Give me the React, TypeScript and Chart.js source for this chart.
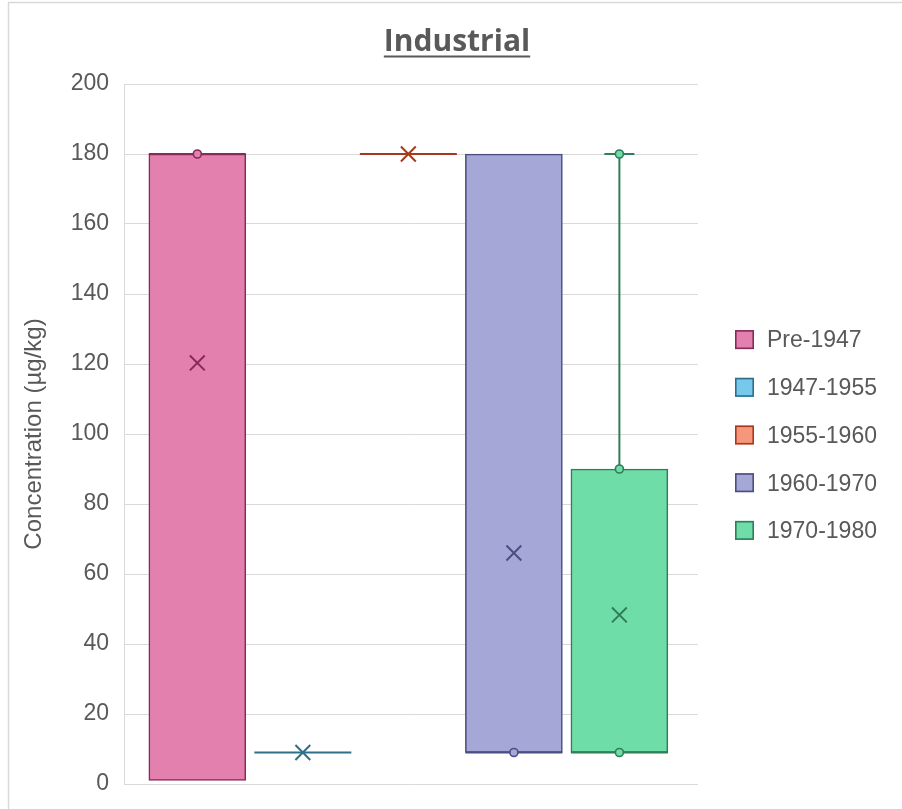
import React, { useEffect, useRef } from 'react';
import { Chart, registerables } from 'chart.js';

Chart.register(...registerables);

// ---- data ----
const chartTitle = 'Industrial';
const axisTitle = 'Concentration (µg/kg)';
const seriesNames = ['Pre-1947', '1947-1955', '1955-1960', '1960-1970', '1970-1980'];
const boxLow = [1, 9, 180, 9, 9]; // first quartile
const boxHigh = [180, 9, 180, 180, 90]; // third quartile
const medians = [180, 9, 180, 9, 9];
const whiskerLow = [1, 9, 180, 9, 9];
const whiskerHigh = [180, 9, 180, 180, 180];
const means = [120.3, 9, 180, 66, 48.3];
const innerPoints = [[180], [], [], [9], [9, 90, 180]];
const yMin = 0;
const yMax = 200;
const yStep = 20;

// ---- styles ----
const fillColors = ['#E480AE', '#76C9EC', '#F4977B', '#A5A8D6', '#6EDDA8'];
const lineColors = ['#862A5C', '#2F6F8A', '#A8381E', '#4B4E80', '#2F7D59'];
const textColor = '#595959';
const gridColor = '#D9D9D9';
const labelFont = '"Liberation Sans", Arial, sans-serif';

const boxPlotExtras = {
  id: 'boxPlotExtras',
  beforeDraw(chart: any) {
    const ctx = chart.ctx;
    ctx.save();
    ctx.strokeStyle = gridColor;
    ctx.lineWidth = 1.5;
    ctx.beginPath();
    ctx.moveTo(8.5, chart.height);
    ctx.lineTo(8.5, 2.5);
    ctx.lineTo(chart.width, 2.5);
    ctx.stroke();
    ctx.restore();
  },
  afterDatasetDraw(chart: any, args: any) {
    const ds = chart.data.datasets[args.index];
    if (ds.seriesIndex === undefined) return;
    const i = ds.seriesIndex;
    const el = args.meta.data[0];
    if (!el) return;
    const y = chart.scales.y;
    const ctx = chart.ctx;
    const cx = el.x;
    const half = el.width / 2;
    const cap = 15;
    ctx.save();
    ctx.strokeStyle = lineColors[i];
    ctx.lineWidth = 2;
    ctx.beginPath();
    const my = y.getPixelForValue(medians[i]);
    ctx.moveTo(cx - half, my);
    ctx.lineTo(cx + half, my);
    if (whiskerHigh[i] > boxHigh[i]) {
      const a = y.getPixelForValue(boxHigh[i]);
      const b = y.getPixelForValue(whiskerHigh[i]);
      ctx.moveTo(cx, a);
      ctx.lineTo(cx, b);
      ctx.moveTo(cx - cap, b);
      ctx.lineTo(cx + cap, b);
    }
    if (whiskerLow[i] < boxLow[i]) {
      const a = y.getPixelForValue(boxLow[i]);
      const b = y.getPixelForValue(whiskerLow[i]);
      ctx.moveTo(cx, a);
      ctx.lineTo(cx, b);
      ctx.moveTo(cx - cap, b);
      ctx.lineTo(cx + cap, b);
    }
    ctx.stroke();
    ctx.restore();
  },
  afterDraw(chart: any) {
    const ctx = chart.ctx;
    const area = chart.chartArea;
    ctx.save();
    // title with underline
    ctx.font = 'bold 30px "Open Sans", sans-serif';
    ctx.fillStyle = textColor;
    ctx.textAlign = 'center';
    ctx.textBaseline = 'alphabetic';
    const tx = 457;
    ctx.fillText(chartTitle, tx, 51);
    const tw = ctx.measureText(chartTitle).width;
    ctx.fillRect(tx - tw / 2, 55.5, tw, 2);
    // legend
    const mid = (area.top + area.bottom) / 2 + 1;
    const spacing = 47.7;
    const boxSize = 19;
    const bx = area.right + 37;
    ctx.font = '23px ' + labelFont;
    ctx.textAlign = 'left';
    ctx.textBaseline = 'middle';
    seriesNames.forEach((name, i) => {
      const cy = mid + (i - (seriesNames.length - 1) / 2) * spacing;
      ctx.fillStyle = fillColors[i];
      ctx.fillRect(bx, cy - boxSize / 2, boxSize, boxSize);
      ctx.strokeStyle = lineColors[i];
      ctx.lineWidth = 1.6;
      ctx.strokeRect(bx + 0.8, cy - boxSize / 2 + 0.8, boxSize - 1.6, boxSize - 1.6);
      ctx.fillStyle = textColor;
      ctx.fillText(name, bx + boxSize + 13, cy + 1.5);
    });
    ctx.restore();
  },
};

export default function App() {
  const ref = useRef<HTMLCanvasElement>(null);
  useEffect(() => {
    if (!ref.current) return;
    const barSets = seriesNames.map((name, i) => ({
      type: 'bar' as const,
      label: name,
      seriesIndex: i,
      data: [{ x: i + 1, y: [boxLow[i], boxHigh[i]] }],
      backgroundColor: fillColors[i],
      borderColor: lineColors[i],
      borderWidth: 1.6,
      borderSkipped: false,
      grouped: false,
      barPercentage: 1,
      categoryPercentage: 1,
      maxBarThickness: 97,
      order: 1,
    }));
    const ptX: number[] = [];
    const ptY: number[] = [];
    const ptFill: string[] = [];
    const ptLine: string[] = [];
    innerPoints.forEach((vals, i) => {
      vals.forEach((v) => {
        ptX.push(i + 1);
        ptY.push(v);
        ptFill.push(fillColors[i]);
        ptLine.push(lineColors[i]);
      });
    });
    const meanSet = {
      type: 'scatter' as const,
      label: 'Mean',
      data: means.map((m, i) => ({ x: i + 1, y: m })),
      pointStyle: 'crossRot',
      pointRadius: 10.5,
      pointBorderWidth: 2,
      pointBorderColor: lineColors,
      pointBackgroundColor: lineColors,
      order: -2,
    };
    const pointSet = {
      type: 'scatter' as const,
      label: 'Points',
      data: ptX.map((x, k) => ({ x, y: ptY[k] })),
      pointStyle: 'circle',
      pointRadius: 4,
      pointBorderWidth: 1.6,
      pointBorderColor: ptLine,
      pointBackgroundColor: ptFill,
      order: -1,
    };
    const chart = new Chart(ref.current, {
      type: 'bar',
      data: { datasets: [...barSets, meanSet, pointSet] as any },
      plugins: [boxPlotExtras],
      options: {
        responsive: false,
        animation: false,
        layout: { padding: { top: 84, right: 204, bottom: 25, left: 0 } },
        plugins: {
          legend: { display: false },
          title: { display: false },
          tooltip: { enabled: false },
        },
        scales: {
          x: {
            type: 'linear',
            display: false,
            offset: false,
            min: 0.305,
            max: 5.745,
            ticks: { stepSize: 1, includeBounds: false },
            grid: { display: false, offset: false },
          },
          y: {
            type: 'linear',
            min: yMin,
            max: yMax,
            afterFit: (scale: any) => {
              scale.width = 124;
            },
            ticks: {
              stepSize: yStep,
              color: textColor,
              padding: 0,
              font: { family: labelFont, size: 23 },
            },
            grid: {
              color: gridColor,
              lineWidth: 1,
              drawTicks: true,
              tickLength: 15,
              tickColor: 'rgba(0,0,0,0)',
            },
            border: { display: true, color: gridColor, width: 1 },
            title: {
              display: true,
              text: axisTitle,
              color: textColor,
              font: { family: labelFont, size: 24 },
              padding: { top: 20, bottom: 0 },
            },
          },
        },
      } as any,
    });
    return () => chart.destroy();
  }, []);
  return (
    <div style={{ position: 'absolute', left: 0, top: 0, width: 902, height: 809 }}>
      <canvas ref={ref} width={902} height={809} style={{ display: 'block', width: 902, height: 809 }} />
    </div>
  );
}
